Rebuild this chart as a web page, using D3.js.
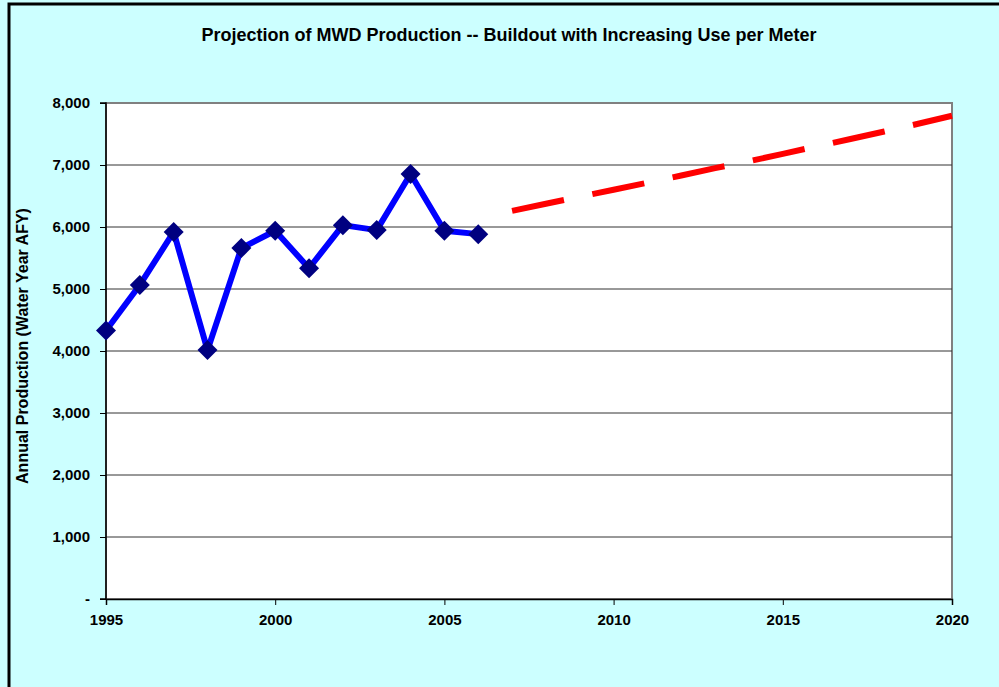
<!DOCTYPE html>
<html>
<head>
<meta charset="utf-8">
<script src="https://cdn.jsdelivr.net/npm/d3@7"></script>
<style>
  body { margin: 0; background: #fff; }
  text { font-family: Arial, "Liberation Sans", sans-serif; font-weight: bold; }
</style>
</head>
<body>
<div id="vis"></div>
<script>
var years = [1995, 1996, 1997, 1998, 1999, 2000, 2001, 2002, 2003, 2004, 2005, 2006];
var production = [4330, 5065, 5920, 4015, 5660, 5940, 5335, 6030, 5950, 6855, 5940, 5885];

var projYears = [2007, 2008, 2009, 2010, 2011, 2012, 2013, 2014, 2015, 2016, 2017, 2018, 2019, 2020];
var projection = [6260, 6375, 6490, 6600, 6715, 6830, 6950, 7060, 7180, 7300, 7420, 7540, 7665, 7795];

var yTicks = [0, 1000, 2000, 3000, 4000, 5000, 6000, 7000, 8000];
var xTicks = [1995, 2000, 2005, 2010, 2015, 2020];

var W = 999, H = 687,
    pLeft = 106, pRight = 952, pTop = 103, pBottom = 599;

var svg = d3.select("#vis").append("svg")
    .attr("width", W)
    .attr("height", H);

// chart background and frame
svg.append("rect")
    .attr("x", 0).attr("y", 0).attr("width", W).attr("height", H)
    .attr("fill", "#ccffff");
svg.append("path")
    .attr("d", "M9," + H + "V4H" + W)
    .attr("fill", "none")
    .attr("stroke", "#000")
    .attr("stroke-width", 3);

var x = d3.scaleLinear().domain([1995, 2020]).range([pLeft, pRight]);
var y = d3.scaleLinear().domain([0, 8000]).range([pBottom, pTop]);

// plot area
svg.append("rect")
    .attr("x", pLeft).attr("y", pTop)
    .attr("width", pRight - pLeft).attr("height", pBottom - pTop)
    .attr("fill", "#fff")
    .attr("stroke", "#808080")
    .attr("stroke-width", 2);

// gridlines
svg.append("g")
  .selectAll("line")
    .data(yTicks.slice(1, -1))
  .enter().append("line")
    .attr("x1", pLeft).attr("x2", pRight)
    .attr("y1", function(d) { return y(d); })
    .attr("y2", function(d) { return y(d); })
    .attr("stroke", "#333")
    .attr("stroke-width", 1);

var yAxis = d3.axisLeft(y)
    .tickValues(yTicks)
    .tickSize(6)
    .tickPadding(10)
    .tickFormat(function(d) { return d === 0 ? "-" : d3.format(",")(d); });

var xAxis = d3.axisBottom(x)
    .tickValues(xTicks)
    .tickSize(6)
    .tickPadding(9)
    .tickFormat(d3.format("d"));

var ya = svg.append("g")
    .attr("transform", "translate(" + pLeft + ",0)")
    .call(yAxis);
var xa = svg.append("g")
    .attr("transform", "translate(0," + pBottom + ")")
    .call(xAxis);

[ya, xa].forEach(function(a) {
  a.select(".domain").attr("stroke", "#000").attr("stroke-width", 1.5);
  a.selectAll(".tick line").attr("stroke", "#000");
  a.selectAll("text")
    .attr("fill", "#000")
    .style("font-size", "15px")
    .style("font-family", "Arial, 'Liberation Sans', sans-serif")
    .style("font-weight", "bold");
});
ya.select(".domain").attr("d", "M-6," + y(8000) + "H0V" + y(0) + "H-6");

// projection (dashed)
var line = d3.line()
    .x(function(d) { return x(d[0]); })
    .y(function(d) { return y(d[1]); });

svg.append("path")
    .datum(d3.zip(projYears, projection))
    .attr("d", line)
    .attr("fill", "none")
    .attr("stroke", "#ff0000")
    .attr("stroke-width", 6)
    .attr("stroke-dasharray", "53,29");

// historical production
var hist = d3.zip(years, production);
svg.append("path")
    .datum(hist)
    .attr("d", line)
    .attr("fill", "none")
    .attr("stroke", "#0000ff")
    .attr("stroke-width", 6)
    .attr("stroke-linejoin", "round");

svg.append("g")
  .selectAll("path")
    .data(hist)
  .enter().append("path")
    .attr("d", d3.symbol().type(d3.symbolSquare).size(200))
    .attr("transform", function(d) { return "translate(" + x(d[0]) + "," + y(d[1]) + ") rotate(45)"; })
    .attr("fill", "#000080");

// title
svg.append("text")
    .attr("x", 509).attr("y", 41)
    .attr("text-anchor", "middle")
    .style("font-size", "18px")
    .text("Projection of MWD Production -- Buildout with Increasing Use per Meter");

svg.append("text")
    .attr("transform", "translate(28,346) rotate(-90)")
    .attr("text-anchor", "middle")
    .style("font-size", "16px")
    .text("Annual Production (Water Year AFY)");
</script>
</body>
</html>
